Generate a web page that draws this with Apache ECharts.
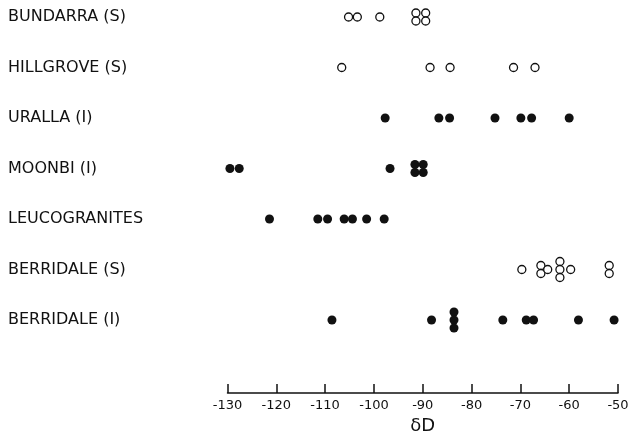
<!DOCTYPE html>
<html>
<head>
<meta charset="utf-8">
<script src="https://cdn.jsdelivr.net/npm/echarts@6/dist/echarts.min.js"></script>
<style>html,body{margin:0;padding:0;background:#fff}#c{width:629px;height:434px}</style>
</head>
<body>
<div id="c"></div>
<script>
const categories = ['BUNDARRA (S)', 'HILLGROVE (S)', 'URALLA (I)', 'MOONBI (I)', 'LEUCOGRANITES', 'BERRIDALE (S)', 'BERRIDALE (I)'];
const openSymbol = [true, true, false, false, false, true, false];
const bundarra = [-105.2, -103.4, -98.8, -91.4, -91.4, -89.4, -89.4];
const hillgrove = [-106.6, -88.5, -84.4, -71.4, -67.0];
const uralla = [-97.7, -86.7, -84.5, -75.2, -69.9, -67.7, -60.0];
const moonbi = [-129.5, -127.6, -96.7, -91.6, -91.6, -89.9, -89.9];
const leucogranites = [-121.4, -111.5, -109.5, -106.1, -104.4, -101.5, -97.9];
const berridaleS = [-69.7, -65.8, -65.8, -64.4, -61.9, -61.9, -61.9, -59.7, -51.8, -51.8];
const berridaleI = [-108.6, -88.2, -83.6, -83.6, -83.6, -73.6, -68.8, -67.3, -58.1, -50.8];
const rows = [bundarra, hillgrove, uralla, moonbi, leucogranites, berridaleS, berridaleI];

const STACK = 8;
function buildData(wantOpen) {
  const out = [];
  rows.forEach((vals, r) => {
    if (openSymbol[r] !== wantOpen) return;
    const counts = {};
    vals.forEach(v => { counts[v] = (counts[v] || 0) + 1; });
    const seen = {};
    vals.forEach(v => {
      const n = counts[v];
      const i = seen[v] || 0; seen[v] = i + 1;
      const off = (i - (n - 1) / 2) * STACK;
      out.push({ value: [v, categories[r]], symbolOffset: [0, off] });
    });
  });
  return out;
}

const chart = echarts.init(document.getElementById('c'));
chart.setOption({
  animation: false,
  backgroundColor: '#fff',
  grid: { left: 227.5, right: 11, top: 17, bottom: 114, containLabel: false, outerBoundsMode: 'none' },
  xAxis: {
    type: 'value', min: -130, max: -50, interval: 10,
    position: 'bottom', offset: 73,
    name: 'δD', nameLocation: 'middle', nameGap: 21,
    nameTextStyle: { fontFamily: 'DejaVu Sans', fontSize: 18, color: '#111' },
    axisLine: { show: true, onZero: false, lineStyle: { color: '#111', width: 1.5 } },
    axisTick: { show: true, inside: true, length: 9, lineStyle: { color: '#111', width: 1.5 } },
    axisLabel: { fontFamily: 'DejaVu Sans', fontSize: 13, color: '#111', margin: 6 },
    splitLine: { show: false }
  },
  yAxis: {
    type: 'category', data: categories, inverse: true, boundaryGap: false,
    axisLine: { show: false }, axisTick: { show: false }, splitLine: { show: false },
    axisLabel: { align: 'left', margin: 219.5, fontFamily: 'DejaVu Sans', fontSize: 16, color: '#111' }
  },
  series: [
    { type: 'scatter', symbol: 'circle', symbolSize: 8, data: buildData(true),
      itemStyle: { color: '#fff', borderColor: '#111', borderWidth: 1.3, opacity: 1 } },
    { type: 'scatter', symbol: 'circle', symbolSize: 9, data: buildData(false),
      itemStyle: { color: '#111', opacity: 1 } }
  ]
});
</script>
</body>
</html>
